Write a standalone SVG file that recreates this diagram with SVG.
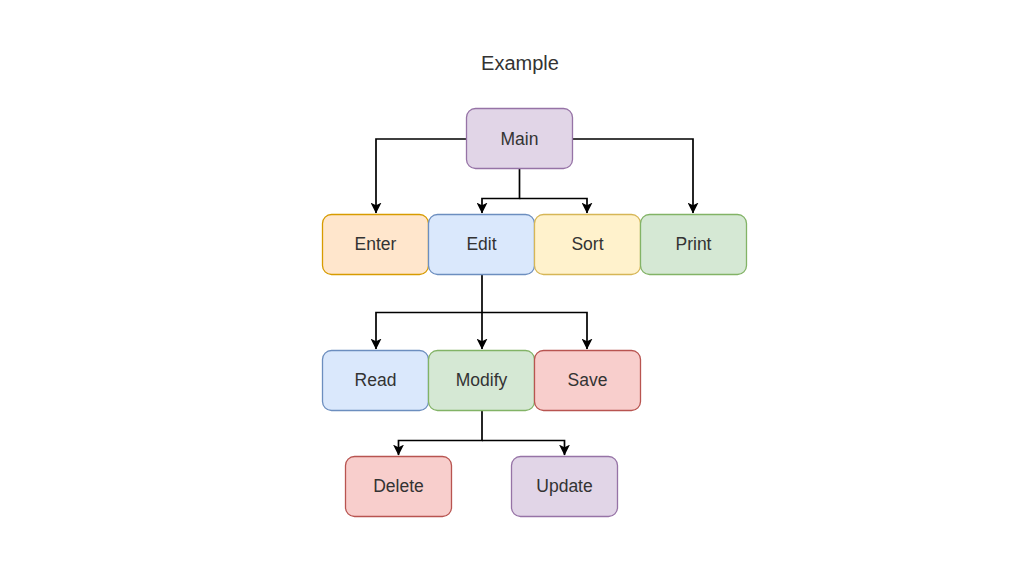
<svg xmlns="http://www.w3.org/2000/svg" width="1024" height="574" viewBox="0 0 1024 574">
<defs>
<style>
.n rect{stroke-width:1.3}
.n text{font-family:"Liberation Sans",Arial,sans-serif;font-size:17.5px;fill:#333;text-anchor:middle}
.purple rect{fill:#e1d5e7;stroke:#9673a6}
.orange rect{fill:#ffe6cc;stroke:#d79b00}
.blue rect{fill:#dae8fc;stroke:#6c8ebf}
.yellow rect{fill:#fff2cc;stroke:#d6b656}
.green rect{fill:#d5e8d4;stroke:#82b366}
.red rect{fill:#f8cecc;stroke:#b85450}
.e{fill:none;stroke:#000;stroke-width:1.7}
</style>
<marker id="arr" viewBox="0 0 10 10" refX="9.5" refY="5" markerWidth="11" markerHeight="11" markerUnits="userSpaceOnUse" orient="auto">
<path d="M0,0 L10,5 L0,10 L2.5,5 Z" fill="#000"/>
</marker>
</defs>
<rect width="1024" height="574" fill="#fff"/>
<text x="520" y="70" font-family="'Liberation Sans',Arial,sans-serif" font-size="20" fill="#333" text-anchor="middle">Example</text>
<g id="connectors">
<path class="e" d="M466,139 H376 V213" marker-end="url(#arr)"/>
<path class="e" d="M573,139 H693 V213" marker-end="url(#arr)"/>
<path class="e" d="M519.5,169 V198.5 H482 V213" marker-end="url(#arr)"/>
<path class="e" d="M519.5,198.5 H587 V213" marker-end="url(#arr)"/>
<path class="e" d="M482,274 V349" marker-end="url(#arr)"/>
<path class="e" d="M482,312.5 H376 V349" marker-end="url(#arr)"/>
<path class="e" d="M482,312.5 H587 V349" marker-end="url(#arr)"/>
<path class="e" d="M482,410 V440.5 H398.5 V455" marker-end="url(#arr)"/>
<path class="e" d="M482,440.5 H564.5 V455" marker-end="url(#arr)"/>
</g>
<g id="main" class="n purple"><rect x="466.5" y="108.5" width="106" height="60" rx="9"/><text x="519.5" y="144.5">Main</text></g>
<g id="enter" class="n orange"><rect x="322.5" y="214.5" width="106" height="60" rx="9"/><text x="375.5" y="250">Enter</text></g>
<g id="edit" class="n blue"><rect x="428.5" y="214.5" width="106" height="60" rx="9"/><text x="481.5" y="250">Edit</text></g>
<g id="sort" class="n yellow"><rect x="534.5" y="214.5" width="106" height="60" rx="9"/><text x="587.5" y="250">Sort</text></g>
<g id="print" class="n green"><rect x="640.5" y="214.5" width="106" height="60" rx="9"/><text x="693.5" y="250">Print</text></g>
<g id="read" class="n blue"><rect x="322.5" y="350.5" width="106" height="60" rx="9"/><text x="375.5" y="386">Read</text></g>
<g id="modify" class="n green"><rect x="428.5" y="350.5" width="106" height="60" rx="9"/><text x="481.5" y="386">Modify</text></g>
<g id="save" class="n red"><rect x="534.5" y="350.5" width="106" height="60" rx="9"/><text x="587.5" y="386">Save</text></g>
<g id="delete" class="n red"><rect x="345.5" y="456.5" width="106" height="60" rx="9"/><text x="398.5" y="492">Delete</text></g>
<g id="update" class="n purple"><rect x="511.5" y="456.5" width="106" height="60" rx="9"/><text x="564.5" y="492">Update</text></g>
</svg>
